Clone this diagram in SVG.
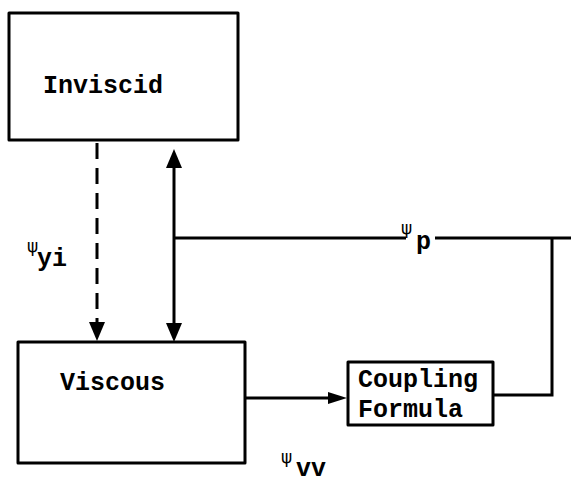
<svg xmlns="http://www.w3.org/2000/svg" width="571" height="483" viewBox="0 0 571 483">
<style>
.box{fill:none;stroke:#000;stroke-width:3;stroke-linejoin:round}
.ln{fill:none;stroke:#000;stroke-width:3}
.lbl{font-family:"Liberation Mono","DejaVu Sans Mono",monospace;font-weight:bold;font-size:25px;fill:#000}
.psi{font-family:"DejaVu Sans","Liberation Sans",sans-serif;font-size:17px;fill:#000}
</style>
<defs>
<marker id="ah" viewBox="0 -9 19 18" refX="0" refY="0" markerWidth="19" markerHeight="18" markerUnits="userSpaceOnUse" orient="auto-start-reverse">
<path d="M0,-8 L19,0 L0,8 z" fill="#000"/>
</marker>
<marker id="ahs" viewBox="0 -7 19 14" refX="0" refY="0" markerWidth="19" markerHeight="14" markerUnits="userSpaceOnUse" orient="auto">
<path d="M0,-6 L19,0 L0,6 z" fill="#000"/>
</marker>
</defs>
<g id="inviscid">
<rect class="box" x="9" y="13" width="229" height="127"/>
<text class="lbl" x="43" y="93">Inviscid</text>
</g>
<g id="viscous">
<rect class="box" x="18" y="342" width="227" height="121"/>
<text class="lbl" x="60" y="390">Viscous</text>
</g>
<g id="coupling">
<rect class="box" x="348" y="362" width="145" height="63"/>
<text class="lbl" x="358" y="387">Coupling</text>
<text class="lbl" x="358" y="417">Formula</text>
</g>
<g id="connectors">
<line class="ln" x1="97" y1="143" x2="97" y2="322" stroke-dasharray="16 9" marker-end="url(#ah)"/>
<line class="ln" x1="174" y1="168" x2="174" y2="323" marker-start="url(#ah)" marker-end="url(#ah)"/>
<line class="ln" x1="174" y1="238" x2="406" y2="238"/>
<line class="ln" x1="435" y1="238" x2="571" y2="238"/>
<polyline class="ln" points="493,395 552,395 552,238"/>
<line class="ln" x1="245" y1="398" x2="328" y2="398" marker-end="url(#ahs)"/>
</g>
<g id="labels">
<text class="psi" x="27" y="252">ψ</text>
<text class="lbl" x="37" y="266">yi</text>
<text class="psi" x="401" y="234">ψ</text>
<text class="lbl" x="416" y="249">p</text>
<text class="psi" x="281" y="463">ψ</text>
<text class="lbl" x="296" y="476">vv</text>
</g>
</svg>
